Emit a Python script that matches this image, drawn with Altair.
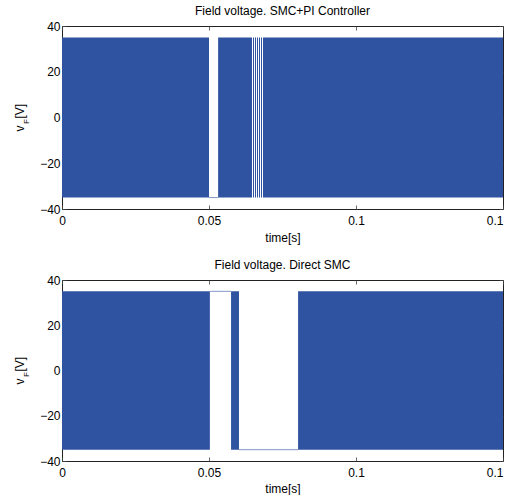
import altair as alt
import pandas as pd

BLUE = "#3053a1"
FONT = "Liberation Sans"

# ---- data (time in s, voltage in V) ----
# Panel 1: SMC+PI controller - intervals of dense +/-35 V switching
p1_on_start = [0.0, 0.0531, 0.06497, 0.06565, 0.06633, 0.06701, 0.06769, 0.06837]
p1_on_end = [0.0500, 0.06463, 0.06531, 0.06599, 0.06667, 0.06735, 0.06803, 0.15]
# intervals where the voltage is held constant
p1_hold_start = [0.0500]
p1_hold_end = [0.0531]
p1_hold_level = [-35]

# Panel 2: Direct SMC
p2_on_start = [0.0, 0.0575, 0.0803]
p2_on_end = [0.0503, 0.0602, 0.15]
p2_hold_start = [0.0503, 0.0602]
p2_hold_end = [0.0575, 0.0803]
p2_hold_level = [35, -35]

v_low, v_high = -35, 35
x_ticks = [0, 0.05, 0.1, 0.15]
y_ticks = [-40, -20, 0, 20, 40]
titles = ["Field voltage. SMC+PI Controller", "Field voltage. Direct SMC"]

W = 441


def panel(on_s, on_e, hold_s, hold_e, hold_lvl, title, H, tpad):
    on = pd.DataFrame({"t0": on_s, "t1": on_e, "lo": v_low, "hi": v_high})
    hold = pd.DataFrame({"t0": hold_s, "t1": hold_e, "v": hold_lvl})
    xs = alt.Scale(domain=[0, 0.15], nice=False, zero=False)
    ys = alt.Scale(domain=[-40, 40], nice=False, zero=False)
    common = dict(offset=-4, tickSize=4, domain=False, grid=False,
                  tickColor="#444", tickWidth=0.8, labelFlush=False,
                  labelOverlap=False)
    ax_bottom = alt.Axis(orient="bottom", values=x_ticks, format="~g",
                         labelAlign={"condition": {"test": "datum.value >= 0.149",
                                                   "value": "right"},
                                     "value": "center"},
                         labelPadding=6, title="time[s]", titlePadding=tpad,
                         labelFont=FONT, labelFontSize=12, labelColor="black",
                         titleFont=FONT, titleFontSize=12, titleFontWeight="normal",
                         titleColor="black", **common)
    ax_top = alt.Axis(orient="top", values=x_ticks, labels=False, title=None, **common)
    ax_left = alt.Axis(orient="left", values=y_ticks, labelPadding=2, title=None,
                       labelFont=FONT, labelFontSize=12, labelColor="black", **common)
    ax_right = alt.Axis(orient="right", values=y_ticks, labels=False, title=None, **common)

    rects = alt.Chart(on).mark_rect(color=BLUE).encode(
        x=alt.X("t0:Q", scale=xs, axis=ax_bottom),
        x2="t1",
        y=alt.Y("lo:Q", scale=ys, axis=ax_left),
        y2="hi",
    )
    holds = alt.Chart(hold).mark_rule(color=BLUE, strokeWidth=1, opacity=0.6).encode(
        x=alt.X("t0:Q", scale=xs, axis=ax_top),
        x2="t1",
        y=alt.Y("v:Q", scale=ys, axis=ax_right),
    )
    lab = pd.DataFrame({"a": [0]})
    yc = H / 2
    t_v = alt.Chart(lab).mark_text(text="v", angle=270, align="left", baseline="alphabetic",
                                   font=FONT, fontSize=12, color="black").encode(
        x=alt.value(-38), y=alt.value(yc + 14))
    t_f = alt.Chart(lab).mark_text(text="F", angle=270, align="left", baseline="alphabetic",
                                   font=FONT, fontSize=8, color="black").encode(
        x=alt.value(-33.5), y=alt.value(yc + 6.5))
    t_u = alt.Chart(lab).mark_text(text="[V]", angle=270, align="left", baseline="alphabetic",
                                   font=FONT, fontSize=12, color="black").encode(
        x=alt.value(-38), y=alt.value(yc + 1))
    return alt.layer(rects, holds, t_v, t_f, t_u).resolve_axis(
        x="independent", y="independent"
    ).properties(
        width=W, height=H,
        title=alt.TitleParams(title, font=FONT, fontSize=12, fontWeight="normal",
                              color="black", offset=2),
    )


top = panel(p1_on_start, p1_on_end, p1_hold_start, p1_hold_end, p1_hold_level, titles[0], 183, 6)
bot = panel(p2_on_start, p2_on_end, p2_hold_start, p2_hold_end, p2_hold_level, titles[1], 181, 5)

chart = alt.vconcat(top, bot, spacing=14).properties(
    padding={"left": 13, "top": 4, "right": 0, "bottom": 0},
    background="white",
).configure_view(stroke="#222", strokeWidth=1)

chart.save("out.html", embed_options={"renderer": "svg", "actions": False})
